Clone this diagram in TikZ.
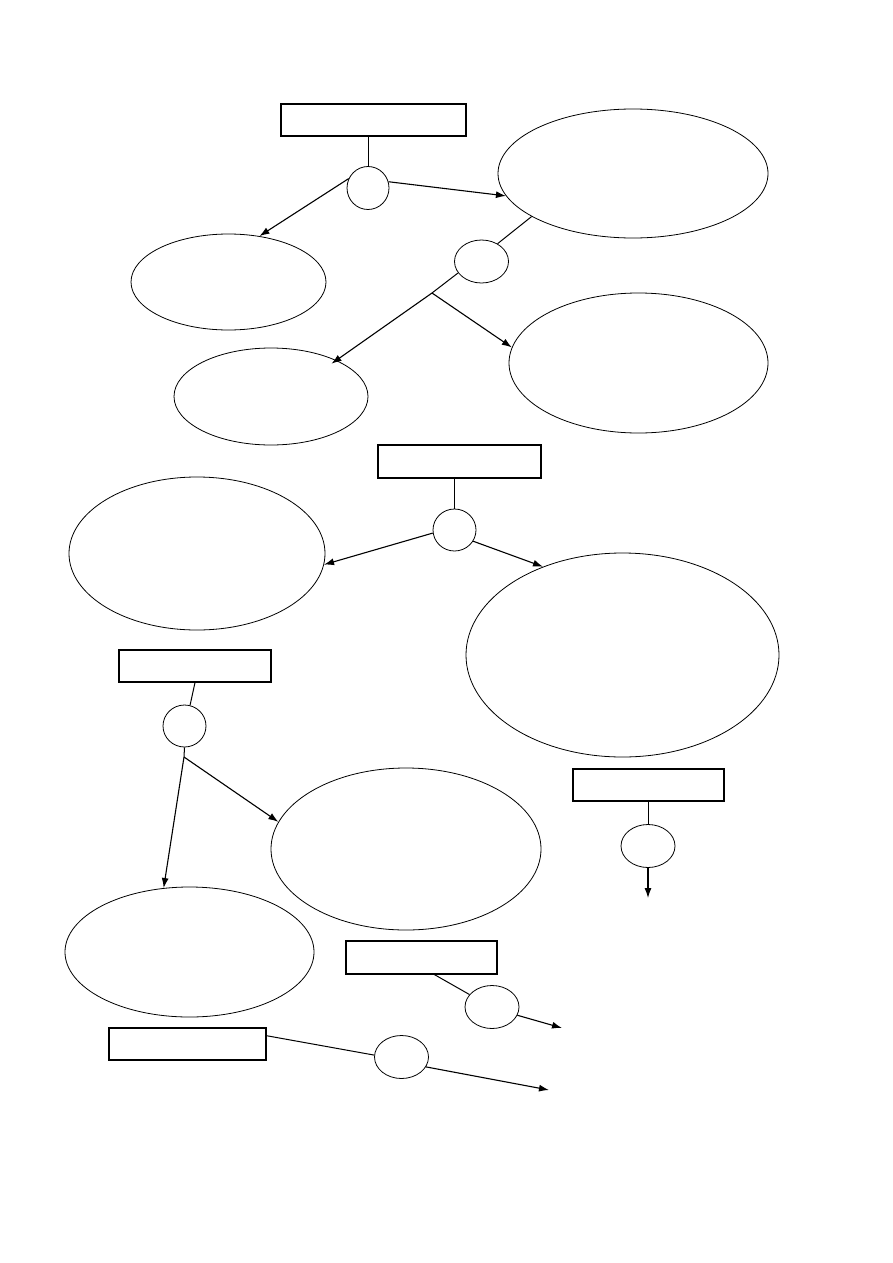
\documentclass[tikz,border=0pt]{standalone}
\usetikzlibrary{shapes.geometric,arrows.meta,calc}
\begin{document}
\begin{tikzpicture}[x=1pt,y=-1pt,
  boxnode/.style={draw,rectangle,line width=1.1pt,inner sep=0pt},
  ovalnode/.style={draw,ellipse,line width=0.8pt,inner sep=0pt},
  ringnode/.style={draw,ellipse,line width=0.8pt,inner sep=0pt},
  link/.style={line width=1pt},
  arrowlink/.style={line width=1.1pt,-{Latex[length=10pt,width=7pt]}}]
\fill[white] (0,0) rectangle (893,1263);
\useasboundingbox (0,0) rectangle (893,1263);
% boxes
\node[boxnode,minimum width=185pt,minimum height=32pt] (b1) at (373.5,120) {};
\node[boxnode,minimum width=163pt,minimum height=33pt] (b2) at (459.5,461.5) {};
\node[boxnode,minimum width=152pt,minimum height=32pt] (b3) at (195,666) {};
\node[boxnode,minimum width=151pt,minimum height=32pt] (b4) at (648.5,785) {};
\node[boxnode,minimum width=151pt,minimum height=33pt] (b5) at (421.5,957.5) {};
\node[boxnode,minimum width=157pt,minimum height=32pt] (b6) at (187.5,1044) {};
% large ellipses
\node[ovalnode,minimum width=270pt,minimum height=129pt] (e1) at (633,173.5) {};
\node[ovalnode,minimum width=195pt,minimum height=96pt] (e2) at (228.5,282) {};
\node[ovalnode,minimum width=194pt,minimum height=97pt] (e3) at (271,396.5) {};
\node[ovalnode,minimum width=259pt,minimum height=140pt] (e4) at (638.5,363) {};
\node[ovalnode,minimum width=256pt,minimum height=153pt] (e5) at (197,553.5) {};
\node[ovalnode,minimum width=313pt,minimum height=204pt] (e6) at (622.5,655) {};
\node[ovalnode,minimum width=270pt,minimum height=162pt] (e7) at (406,849) {};
\node[ovalnode,minimum width=249pt,minimum height=130pt] (e8) at (189.5,952) {};
% small circles
\node[ringnode,minimum width=42pt,minimum height=43pt] (c1) at (368,188) {};
\node[ringnode,minimum width=54pt,minimum height=43pt] (c2) at (481.5,261.5) {};
\node[ringnode,minimum width=43pt,minimum height=42pt] (c3) at (454.5,530) {};
\node[ringnode,minimum width=43pt,minimum height=42pt] (c4) at (184.5,726) {};
\node[ringnode,minimum width=54pt,minimum height=43pt] (c5) at (648,846) {};
\node[ringnode,minimum width=54pt,minimum height=43pt] (c6) at (492,1007) {};
\node[ringnode,minimum width=54pt,minimum height=43pt] (c7) at (401.5,1057) {};
% fork points and free ends
\coordinate (f1) at (432,293);
\coordinate (f2) at (184,757);
\coordinate (t5) at (648,898);
\coordinate (t6) at (562,1028);
\coordinate (t7) at (549,1090);
% connectors
\draw[link] (c1.north) -- (c1.north |- b1.south);
\draw[arrowlink] (c1.154) -- (e2.56);
\draw[arrowlink] (c1.17) -- (e1.190);
\draw[link] (e1.203) -- (c2.48);
\draw[link] (c2.206) -- (f1);
\draw[arrowlink,shorten >=-6pt] (f1) -- (e3.29);
\draw[arrowlink] (f1) -- (e4.173);
\draw[link] (c3.north) -- (c3.north |- b2.south);
\draw[arrowlink] (c3.188) -- (e5.-5);
\draw[arrowlink] (c3.-31) -- (e6.132);
\draw[link] (b3.south) -- (c4.75);
\draw[link] (c4.south) -- (f2);
\draw[arrowlink] (f2) -- (e8.112);
\draw[arrowlink] (f2) -- (e7.168);
\draw[link] (c5.north |- b4.south) -- (c5.north);
\draw[arrowlink] (c5.south) -- (t5);
\draw[link] (b5.-53) -- (c6.151);
\draw[arrowlink] (c6.-18) -- (t6);
\draw[link] (b6.6.5) -- (c7.176);
\draw[arrowlink] (c7.-22) -- (t7);
\end{tikzpicture}
\end{document}
